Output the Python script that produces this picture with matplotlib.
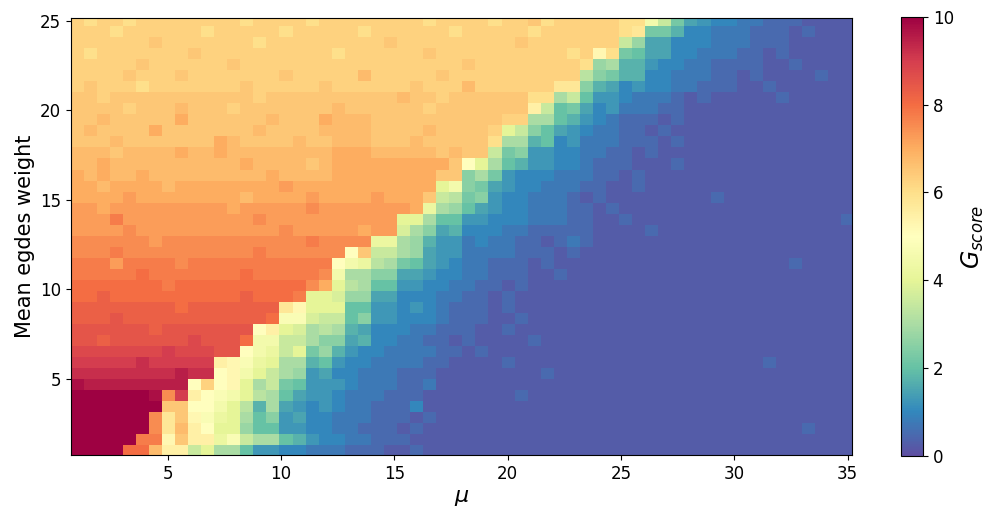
import numpy as np
import matplotlib
matplotlib.use("Agg")
import matplotlib.pyplot as plt

# grid of the simulation
mu = np.linspace(1, 35, 60)
weight = np.linspace(1, 25, 40)

# G_score, one string per weight row, top row (weight=25) first.
# 'A'..'U' -> 0, 0.5, ..., 10 ; a lower case letter adds 0.25. Spaces are ignored.
g_rows = [
    "mMmmMmmmmm mmmMmmmmMm mmmmmmmMmm mmMmmNMmmm mmMMJHeDcC CbbBBBaaaa",
    "mmmMmmmmmm MmmmmmMmmm mmMmmmmmmM mmmmmMmmmm mmMleedCCb bbBBBaBaaa",
    "mmmmmmNmmm mmmmMmmmmm mmmmNmmmmm mmmmNmmmmm mmHfDDCCCb bbBBBaaaaa",
    "mMmmmmmmmN mmmmmmmmmm MmmmmmmNmm mmmmmmmmMm kMeEDDCCbb bBBaBaaaaa",
    "mmmmmNmmmm mmNmmmmmmm mmmmmmmmmm NmmmmmmmmM fGddcCCbbB BBBaaBaaaa",
    "mmmmNmmmNm mmmmmmNmmm mmnmmmmmNm mmmmmmmmmg FeddCCbbbB BaBaaaaBaa",
    "mNmmmMmmmm mmmNmmmmmN mmmmmmNmmm nmmmmmmllF dDCcCCbbBB BaaBaaaaaa",
    "NNmNNNNNNN NNNNmNNNNN NNNNNnNNmN NNNNNMMGHE ccCbbbBaBa aaaaBaaaaa",
    "NNNNmNNNnN NNmNNNNNNN nNNNNNNmNN NNNNNLHEeD CcbbbBBaaa aaaaaaaaaa",
    "NNnNNNNNON NNNNNnNNNO nnnNNNNNNN NNNmmGGEdc CbBBBaBaaa aaaaaaaaaa",
    "NnNNNNONNN NNNNnNNNNn nnnNNNNnNN NNmIHFEDcC bbBBaBaaaa aaaaaaaaaa",
    "NNNnNNNNNN NOnNNNNnNN nnnNNNnNNN NNMGGdECcb bbBBBaBaaa aaaaaaaaaa",
    "nnnNnnnnOn nOnnnnnnnn OOOnnnnnNn NNHeFccCCb bBBaBaaaaa aaaaaaaaaa",
    "nnOnnnnnnn nnnOnnnnNn OOOOOOOOON KIGEdccCCb BBBaaaBaaa aaaaaaaaaa",
    "OnOnnOnnnn nnnnnOnnnn OOOOOOOONN FGecCCCbbb BBaBaaaaaa aaaaaaaaaa",
    "OOnOOOOnOO OOOOOOoOOO OOOOOOOOIJ FeDcCCbbbB BaaBaaaaaa aaaaaaaaaa",
    "OOOOoOOOOO OOOnOOOOoO OOOoOOONHg eFcCCbbbBa BaaaaaaaaB aaaaaaaaaa",
    "ooOooooooo ooOoooooPo ooooooOiGf EDcCCbbbBB aBaaaaaaaa aaaaaaaaaa",
    "ooopoooooo ooooPooooo oooooIIGEE ccCCCbbbBB aaBaaaaaaa aaaaaaaaaB",
    "ooooPooooo ooooooPooo ooOoohGFDd CCCbbBBBBB aaaaBaaaaa aaaaaaaaaa",
    "PPPPPPoPPP PPPPPPPPpP PPPiiGfdcc bCbbBBaBbB aaaaaaaaaa aaaaaaaaaa",
    "PPPpPPPPPP PPPPpPPPPP PKNHHGfDcc bbbbBBBaBa aaaaaaaaaa aaaaaaaaaa",
    "pppoppppPp pppppppppp KJigGeEDcC bbBBBaBaaa aaaaaaaaaa aaaaaBaaaa",
    "pppppQpppp pppQpppppP JGGFFDDcCC bbBBBaaBaa aaaaaaaaaa aaaaaaaaaa",
    "QQQQQQQpQQ QQQQQQQQPO IgGEEccCCb bBBaBaaaaa aaaaaaaaaa aaaaaaaaaa",
    "QQqQQQQQQQ QQQqQQQpII hffDDCCCbb BBaBaaaaaa aaaaaaaaaa aaaaaaaaaa",
    "qqqqqqqqQq qqqqqqlkII IEEccCcCbB BBaBaaaaaa aaaaaaaaaa aaaaaaaaaa",
    "qqqRqqqqqq qqqqqQjjhH HEFccCCCbB BBaaBaaaaa aaaaaaaaaa aaaaaaaaaa",
    "RRRRRRqRRR RRRRKLIhGg GdDCCCbbBB BaaBaaaaaa aaaaaaaaaa aaaaaaaaaa",
    "RRqRRRRRRr RRRQJJHHGF FDdCCbbBBa BaaaaBaaaa aaaaaaaaaa aaaaaaaaaa",
    "rrrrrrrSrr rRRKJiHIef dcCCbbbbBB aBaaaaaaaa aaaaaaaaaa aaaaaaaaaa",
    "SSSSSsSSSS SLkjiIGGdE cCCbbbbBBa aaaBaaaaaa aaaaaaaaaa aaaBaaaaaa",
    "ssssssssTs sKkJIHGfcD CCbbbBBBaa aaaaaaBaaa aaaaaaaaaa aaaaaaaaaa",
    "tTTTTTTTTK mKkIGHeEcc cCbbbBBbaa aaaaaaaaaa aaaaaaaaaa aaaaaaaaaa",
    "UUUUUUtPSL KjJIgGEDcc CbbbBBBaaa aaaaBaaaaa aaaaaaaaaa aaaaaaaaaa",
    "UUUUUUUNNK KJIgdGDcCc CbbBBBCaaa aaaaaaaaaa aaaaaaaaaa aaaaaaaaaa",
    "UUUUUUPlNk jiIGEFcDCC bbbBBBaBaa aaaaaaaaaa aaaaaaaaaa aaaaaaaaaa",
    "UUUUUUPlnL KIIfEEccCC bbBBBaBaaa aaaaaaaaaa aaaaaaaaaa aaaaaaBaaa",
    "UUUUUppkNL LijHGGEdcC CbbBBBaaaa aaaaaaaaaa aaaaaaaaaa aaaaaaaaaa",
    "UUUUQQnLLH IGGEccCCbb bBBBaaBaaa aaaaaaaaaa aaaaaaaaaa aaaaaaaaaa",
]


def decode(row):
    row = row.replace(" ", "")
    return [0.5 * (ord(ch.upper()) - 65) + (0.25 if ch.islower() else 0.0) for ch in row]


g_score = np.flipud(np.array([decode(r) for r in g_rows]))

fig = plt.figure(figsize=(9.96, 5.23), dpi=100)
ax = fig.add_axes([0.0713, 0.130, 0.7841, 0.835])
cax = fig.add_axes([0.9046, 0.128, 0.0221, 0.840])

mesh = ax.pcolormesh(mu, weight, g_score, cmap="Spectral_r", vmin=0, vmax=10,
                     shading="nearest")
ax.set_xlim(0.735, 35.19)
ax.set_ylim(0.76, 25.13)
ax.set_xlabel(r"$\mu$", fontsize=16)
ax.set_ylabel("Mean egdes weight", fontsize=15)
ax.tick_params(labelsize=12)

cb = fig.colorbar(mesh, cax=cax)
cb.set_label(r"$G_{score}$", fontsize=17)
cb.ax.tick_params(labelsize=12)

fig.savefig("out.png", dpi=100)
